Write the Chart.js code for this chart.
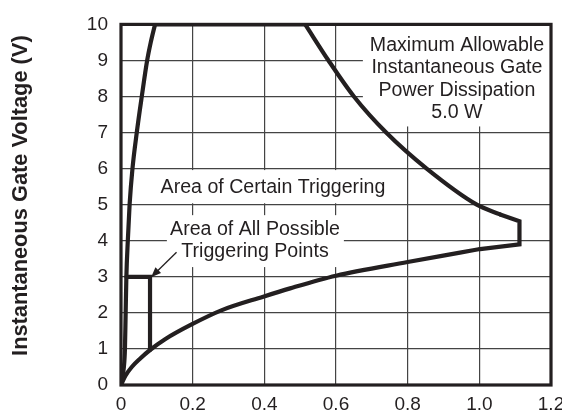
<!DOCTYPE html>
<html>
<head>
<meta charset="utf-8">
<script src="https://cdn.jsdelivr.net/npm/chart.js@4/dist/chart.umd.min.js"></script>
<style>
  html, body { margin: 0; padding: 0; background: #fff; }
  #wrap { width: 562px; height: 417px; }
</style>
</head>
<body>
<div id="wrap"><canvas id="maincanvas" width="562" height="417"></canvas></div>
<script>
// values (x = gate current A, y = gate voltage V)
var leftCurveX = [0, 0.008, 0.011, 0.013, 0.015, 0.019, 0.024, 0.032, 0.044, 0.058, 0.073, 0.083, 0.095];
var leftCurveY = [0, 0.5, 1, 2, 3, 4, 5, 6, 7, 8, 9, 9.5, 10];
var topLineX = [0.095, 0.514];
var topLineY = [10, 10];
var powerCurveX = [0.514, 0.579, 0.650, 0.740, 0.853, 0.993, 1.058];
var powerCurveY = [10, 9, 8, 7, 6, 5, 4.73];
var notchX = [1.058, 1.112, 1.112, 1.002];
var notchY = [4.73, 4.54, 3.9, 3.77];
var lowerCurveX = [0, 0.012, 0.03, 0.053, 0.081, 0.123, 0.197, 0.28, 0.397, 0.472, 0.6, 0.8, 0.946, 1.002];
var lowerCurveY = [0, 0.25, 0.5, 0.73, 0.97, 1.27, 1.68, 2.07, 2.45, 2.68, 3.03, 3.41, 3.67, 3.77];
var smallBoxX = [0.015, 0.081, 0.081];
var smallBoxY = [3, 3, 0.97];

var xTickLabels = ["0", "0.2", "0.4", "0.6", "0.8", "1.0", "1.2"];
var yTickLabels = ["0", "1", "2", "3", "4", "5", "6", "7", "8", "9", "10"];

var FONT = "'Liberation Sans', Arial, Helvetica, sans-serif";
var INK = "#231f20";

function pts(xs, ys) {
    return xs.map(function (x, i) { return { x: x, y: ys[i] }; });
}

function line(xs, ys, smooth) {
    return {
        data: pts(xs, ys),
        showLine: true,
        borderColor: INK,
        borderWidth: 4.2,
        pointRadius: 0,
        tension: smooth ? 0.4 : 0,
        cubicInterpolationMode: smooth ? "monotone" : "default",
        borderCapStyle: "round",
        borderJoinStyle: "miter",
        fill: false
    };
}

// white boxes behind labels, text, arrow and the heavy frame
var notes = {
    id: "notes",
    beforeDatasetsDraw: function (chart) {
        var ctx = chart.ctx, xs = chart.scales.x, ys = chart.scales.y;
        var boxes = [
            [0.675, 1.2, 10, 7.17],
            [0.1, 0.77, 5.96, 5.04],
            [0.128, 0.622, 4.71, 3.27]
        ];
        ctx.save();
        ctx.fillStyle = "#fff";
        boxes.forEach(function (b) {
            var l = xs.getPixelForValue(b[0]), r = xs.getPixelForValue(b[1]);
            var t = ys.getPixelForValue(b[2]), btm = ys.getPixelForValue(b[3]);
            ctx.fillRect(l, t, r - l, btm - t);
        });
        ctx.restore();
    },
    afterDatasetsDraw: function (chart) {
        var ctx = chart.ctx, xs = chart.scales.x, ys = chart.scales.y, a = chart.chartArea;
        ctx.save();
        ctx.fillStyle = INK;
        ctx.font = "19.6px " + FONT;
        ctx.textAlign = "center";
        ctx.textBaseline = "middle";
        var texts = [
            ["Maximum Allowable", 0.9375, 9.40],
            ["Instantaneous Gate", 0.9375, 8.79],
            ["Power Dissipation", 0.9375, 8.17],
            ["5.0 W", 0.9375, 7.55],
            ["Area of Certain Triggering", 0.424, 5.47],
            ["Area of All Possible", 0.374, 4.31],
            ["Triggering Points", 0.374, 3.70]
        ];
        texts.forEach(function (t) {
            ctx.fillText(t[0], xs.getPixelForValue(t[1]), ys.getPixelForValue(t[2]));
        });

        // arrow
        var x0 = xs.getPixelForValue(0.155), y0 = ys.getPixelForValue(3.68);
        var x1 = xs.getPixelForValue(0.084), y1 = ys.getPixelForValue(2.99);
        var ang = Math.atan2(y1 - y0, x1 - x0);
        ctx.strokeStyle = INK;
        ctx.lineWidth = 1.3;
        ctx.beginPath();
        ctx.moveTo(x0, y0);
        ctx.lineTo(x1 - 6 * Math.cos(ang), y1 - 6 * Math.sin(ang));
        ctx.stroke();
        ctx.beginPath();
        ctx.moveTo(x1, y1);
        ctx.lineTo(x1 - 10 * Math.cos(ang) + 4 * Math.sin(ang), y1 - 10 * Math.sin(ang) - 4 * Math.cos(ang));
        ctx.lineTo(x1 - 10 * Math.cos(ang) - 4 * Math.sin(ang), y1 - 10 * Math.sin(ang) + 4 * Math.cos(ang));
        ctx.closePath();
        ctx.fill();

        // frame
        ctx.lineWidth = 3.2;
        ctx.strokeRect(a.left, a.top, a.right - a.left, a.bottom - a.top);
        ctx.restore();
    }
};

var mainchart = document.getElementById("maincanvas").getContext("2d");
var mainLineChart = new Chart(mainchart, {
    type: "scatter",
    data: {
        datasets: [
            line(leftCurveX, leftCurveY, true),
            line(topLineX, topLineY, false),
            line(powerCurveX, powerCurveY, true),
            line(notchX, notchY, false),
            line(lowerCurveX, lowerCurveY, true),
            line(smallBoxX, smallBoxY, false)
        ]
    },
    options: {
        responsive: false,
        animation: false,
        layout: { padding: { top: 19, right: 11, bottom: 0, left: 0 } },
        plugins: { legend: { display: false }, tooltip: { enabled: false } },
        scales: {
            x: {
                type: "linear",
                min: 0,
                max: 1.2,
                afterFit: function (s) { s.height = 32; s.paddingRight = 0; s.paddingLeft = 0; },
                ticks: {
                    stepSize: 0.2,
                    padding: 8,
                    color: INK,
                    font: { family: FONT, size: 19 },
                    callback: function (v, i) { return xTickLabels[i]; }
                },
                grid: { color: "#444", lineWidth: 1.2, drawTicks: false },
                border: { display: false }
            },
            y: {
                type: "linear",
                min: 0,
                max: 10,
                afterFit: function (s) { s.width = 121; },
                ticks: {
                    stepSize: 1,
                    padding: 13,
                    color: INK,
                    font: { family: FONT, size: 19 },
                    callback: function (v, i) { return yTickLabels[i]; }
                },
                grid: { color: "#444", lineWidth: 1.2, drawTicks: false },
                border: { display: false },
                title: {
                    display: true,
                    // leading spaces nudge the rotated title up a little
                    text: "   Instantaneous Gate Voltage (V)",
                    color: INK,
                    font: { family: FONT, size: 21.8, weight: "bold" },
                    padding: { top: 8, bottom: 0 }
                }
            }
        }
    },
    plugins: [notes]
});
</script>
</body>
</html>
